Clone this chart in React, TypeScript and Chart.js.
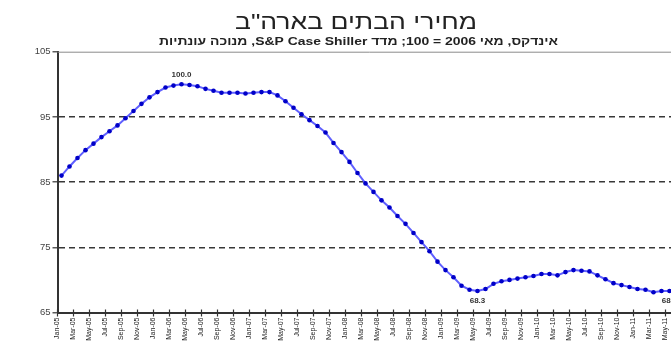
import { useEffect, useRef } from 'react';
import { Chart, registerables } from 'chart.js';

Chart.register(...registerables);

const TITLE = 'מחירי הבתים בארה"ב';
const SUBTITLE = 'אינדקס, מאי 2006 = 100; מדד S&P Case Shiller, מנוכה עונתיות';

const MONTHS = ['Jan', 'Feb', 'Mar', 'Apr', 'May', 'Jun', 'Jul', 'Aug', 'Sep', 'Oct', 'Nov', 'Dec'];
const YEARS = ['05', '06', '07', '08', '09', '10', '11'];
const MONTH_LABELS = YEARS.flatMap((y) => MONTHS.map((m) => `${m}-${y}`));

// Index, Jan-05 onward, monthly
const INDEX_VALUES = [
  86.0, 87.4, 88.7, 89.9, 90.9, 91.9, 92.8, 93.7, 94.8, 95.9, 97.0, 98.0,
  98.8, 99.5, 99.8, 100.0, 99.9, 99.7, 99.3, 99.0, 98.7, 98.7, 98.7, 98.6,
  98.7, 98.8, 98.8, 98.3, 97.4, 96.4, 95.4, 94.5, 93.6, 92.6, 91.0, 89.6,
  88.1, 86.4, 84.8, 83.5, 82.2, 81.1, 79.8, 78.6, 77.2, 75.8, 74.4, 72.8,
  71.5, 70.4, 69.1, 68.5, 68.3, 68.6, 69.4, 69.8, 70.0, 70.2, 70.4, 70.6,
  70.9, 70.9, 70.7, 71.2, 71.5, 71.4, 71.3, 70.7, 70.1, 69.5, 69.2, 68.9,
  68.6, 68.5, 68.1, 68.3, 68.3,
];

const LABELED_POINTS = [15, 52, 76];
const Y_TICKS_MIN = 65;
const Y_TICKS_MAX = 105;
const X_MONTHS_SPAN = 78;

const FONT = '"Liberation Sans", Arial, sans-serif';

const decorPlugin = {
  id: 'decor',
  beforeDatasetsDraw(chart: any) {
    const { ctx, chartArea, scales } = chart;
    const yTop = scales.y.getPixelForValue(Y_TICKS_MAX);
    ctx.save();
    ctx.strokeStyle = '#8a8a8a';
    ctx.lineWidth = 1;
    ctx.beginPath();
    ctx.moveTo(chartArea.left, yTop + 0.5);
    ctx.lineTo(chartArea.right, yTop + 0.5);
    ctx.stroke();
    // inner half of x tick marks (cross the axis)
    ctx.strokeStyle = '#333';
    ctx.lineWidth = 1.2;
    for (const t of scales.x.ticks) {
      const px = scales.x.getPixelForValue(t.value);
      ctx.beginPath();
      ctx.moveTo(px, chartArea.bottom - 3);
      ctx.lineTo(px, chartArea.bottom);
      ctx.stroke();
    }
    ctx.restore();
  },
  afterDatasetsDraw(chart: any) {
    const { ctx } = chart;
    const meta = chart.getDatasetMeta(0);
    ctx.save();
    ctx.font = `bold 8px ${FONT}`;
    ctx.fillStyle = '#333';
    ctx.textAlign = 'center';
    ctx.textBaseline = 'middle';
    LABELED_POINTS.forEach((idx, k) => {
      const el = meta.data[idx];
      if (!el) return;
      const txt = INDEX_VALUES[idx].toFixed(1);
      const dy = k === 0 ? -10 : 10;
      ctx.fillText(txt, el.x, el.y + dy);
    });
    ctx.restore();
  },
  afterDraw(chart: any) {
    const { ctx } = chart;
    const drawStretched = (text: string, font: string, cx: number, cy: number, targetW: number) => {
      ctx.save();
      ctx.font = font;
      (ctx as any).direction = 'rtl';
      ctx.fillStyle = '#222';
      ctx.textAlign = 'center';
      ctx.textBaseline = 'middle';
      const w = ctx.measureText(text).width;
      const sx = w > 0 ? targetW / w : 1;
      ctx.translate(cx, cy);
      ctx.scale(sx, 1);
      ctx.fillText(text, 0, 0);
      ctx.restore();
    };
    drawStretched(TITLE, `22px ${FONT}`, 356, 22.5, 242);
    drawStretched(SUBTITLE, `bold 11.5px ${FONT}`, 358.5, 42, 399);
  },
};

export default function App() {
  const ref = useRef<HTMLCanvasElement | null>(null);

  useEffect(() => {
    document.body.style.overflow = 'hidden';
    const canvas = ref.current;
    if (!canvas) return;
    const chart = new Chart(canvas, {
      type: 'line',
      data: {
        datasets: [
          {
            data: INDEX_VALUES.map((v, i) => ({ x: i + 0.5, y: v })),
            borderColor: '#6060ff',
            borderWidth: 2,
            pointRadius: 2.3,
            pointBackgroundColor: '#0000c8',
            pointBorderColor: '#0000c8',
            pointBorderWidth: 0,
            tension: 0,
          },
        ],
      },
      options: {
        animation: false,
        responsive: false,
        devicePixelRatio: 1,
        layout: { padding: { top: 51.7, left: 0, right: 18.5, bottom: 0 } },
        plugins: {
          legend: { display: false },
          tooltip: { enabled: false },
          title: { display: false },
        },
        scales: {
          x: {
            type: 'linear',
            min: 0,
            max: X_MONTHS_SPAN,
            afterFit: (s: any) => {
              s.height = 32.5;
            },
            ticks: {
              stepSize: 2,
              maxTicksLimit: 100,
              autoSkip: false,
              minRotation: 90,
              maxRotation: 90,
              padding: 1,
              color: '#222',
              font: { family: FONT, size: 7 },
              callback: (v: any) => MONTH_LABELS[Math.round(Number(v))] ?? '',
            },
            grid: {
              drawOnChartArea: false,
              drawTicks: true,
              tickLength: 4,
              tickColor: '#333',
              tickWidth: 1.2,
            },
            border: { color: '#333', width: 2 },
          },
          y: {
            min: Y_TICKS_MIN,
            max: Y_TICKS_MAX,
            afterFit: (s: any) => {
              s.width = 57.5;
            },
            ticks: {
              stepSize: 10,
              padding: 2,
              color: '#444',
              font: { family: FONT, size: 9.5 },
            },
            grid: {
              color: (c: any) =>
                c.tick && (c.tick.value === Y_TICKS_MIN || c.tick.value === Y_TICKS_MAX)
                  ? 'rgba(0,0,0,0)'
                  : '#383838',
              lineWidth: 1.6,
              drawTicks: true,
              tickLength: 5,
              tickColor: '#333',
              tickWidth: 1.2,
            },
            border: { color: '#333', width: 2, dash: [6, 4] },
          },
        },
      },
      plugins: [decorPlugin],
    });
    return () => chart.destroy();
  }, []);

  return (
    <div style={{ position: 'fixed', left: 0, top: 0, width: 700, height: 345, background: '#fff' }}>
      <canvas ref={ref} width={700} height={345} style={{ display: 'block' }} />
    </div>
  );
}
